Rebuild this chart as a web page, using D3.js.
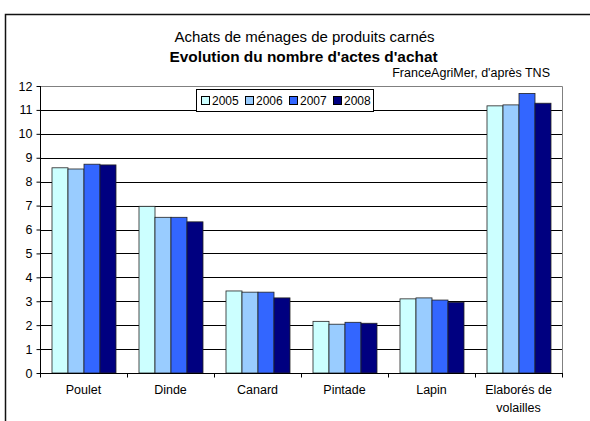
<!DOCTYPE html>
<html>
<head>
<meta charset="utf-8">
<script src="https://cdn.jsdelivr.net/npm/d3@7"></script>
<style>
  body { margin: 0; background: #fff; }
  svg { font-family: "Liberation Sans", Arial, sans-serif; }
</style>
</head>
<body>
<svg></svg>
<script>
var categories = ['Poulet', 'Dinde', 'Canard', 'Pintade', 'Lapin', 'Elaborés de volailles'];
var years = ['2005', '2006', '2007', '2008'];
var values2005 = [8.58, 6.97, 3.43, 2.16, 3.10, 11.17];
var values2006 = [8.53, 6.51, 3.38, 2.04, 3.14, 11.21];
var values2007 = [8.73, 6.51, 3.38, 2.12, 3.05, 11.69];
var values2008 = [8.70, 6.32, 3.14, 2.08, 2.96, 11.28];
var yTicks = [0, 1, 2, 3, 4, 5, 6, 7, 8, 9, 10, 11, 12];
var colors = ['#ccffff', '#99ccff', '#3366ff', '#000080'];

var series = [values2005, values2006, values2007, values2008];
var width = 590;
var height = 421;
var plotLeft = 40, plotRight = 562, plotTop = 86, plotBottom = 373;

var svg = d3.select('svg')
    .attr('width', width)
    .attr('height', height);

// outer frame
svg.append('rect')
    .attr('x', 5.5).attr('y', 14.5)
    .attr('width', 620).attr('height', 440)
    .attr('fill', 'none')
    .attr('stroke', '#111')
    .attr('stroke-width', 1.5);

var x0 = d3.scaleBand()
    .domain(categories)
    .range([plotLeft, plotRight]);

var x1 = d3.scaleBand()
    .domain(years)
    .range([12, 76]);

var y = d3.scaleLinear()
    .domain([0, 12])
    .range([plotBottom, plotTop]);

// grid lines
svg.append('g')
  .selectAll('line')
  .data(yTicks.slice(1))
  .enter()
  .append('line')
    .attr('x1', plotLeft).attr('x2', plotRight)
    .attr('y1', d => Math.round(y(d)) + 0.5)
    .attr('y2', d => Math.round(y(d)) + 0.5)
    .attr('stroke', '#000')
    .attr('stroke-width', 1);

// plot border top / right
svg.append('path')
    .attr('d', 'M' + plotLeft + ',' + (plotTop + 0.5) + 'H' + (plotRight + 0.5) + 'V' + plotBottom)
    .attr('fill', 'none')
    .attr('stroke', '#808080')
    .attr('stroke-width', 1);

// bars
var rows = categories.map((c, i) => ({cat: c, vals: years.map((yr, j) => ({year: yr, value: series[j][i], color: colors[j]}))}));

svg.append('g')
  .selectAll('g')
  .data(rows)
  .enter()
  .append('g')
    .attr('transform', d => 'translate(' + x0(d.cat) + ',0)')
  .selectAll('rect')
  .data(d => d.vals)
  .enter()
  .append('rect')
    .attr('x', d => x1(d.year))
    .attr('y', d => y(d.value))
    .attr('width', x1.bandwidth())
    .attr('height', d => plotBottom - y(d.value))
    .attr('fill', d => d.color)
    .attr('stroke', '#222')
    .attr('stroke-width', 0.8);

// y axis
var yAxis = svg.append('g')
    .attr('transform', 'translate(' + (plotLeft + 0.5) + ',0)')
    .call(d3.axisLeft(y).tickValues(yTicks).tickSize(4).tickPadding(4).tickFormat(d3.format('d')));
yAxis.select('.domain').attr('d', 'M0,' + plotTop + 'V' + plotBottom);
yAxis.selectAll('text').attr('font-size', 12.5).attr('font-family', 'Liberation Sans, Arial, sans-serif').attr('fill', '#000');

// x axis
var xAxis = svg.append('g')
    .attr('transform', 'translate(0,' + (plotBottom + 0.5) + ')');
xAxis.append('line')
    .attr('x1', plotLeft).attr('x2', plotRight + 1)
    .attr('stroke', '#000');
xAxis.selectAll('.tick')
  .data(categories.concat(['end']))
  .enter()
  .append('line')
    .attr('class', 'tick')
    .attr('x1', (d, i) => plotLeft + i * x0.bandwidth() + 0.5)
    .attr('x2', (d, i) => plotLeft + i * x0.bandwidth() + 0.5)
    .attr('y1', 0).attr('y2', 4)
    .attr('stroke', '#000');

xAxis.selectAll('text')
  .data(categories)
  .enter()
  .append('text')
    .attr('x', d => x0(d) + x0.bandwidth() / 2)
    .attr('y', 20)
    .attr('text-anchor', 'middle')
    .attr('font-size', 12.5)
    .each(function(d) {
      var t = d3.select(this);
      var parts = d === 'Elaborés de volailles' ? ['Elaborés de', 'volailles'] : [d];
      parts.forEach((p, k) => {
        t.append('tspan')
          .attr('x', x0(d) + x0.bandwidth() / 2)
          .attr('dy', k === 0 ? 0 : 18)
          .text(p);
      });
    });

// titles
svg.append('text')
    .attr('x', 304.5).attr('y', 42)
    .attr('text-anchor', 'middle')
    .attr('font-size', 15)
    .text('Achats de ménages de produits carnés');
svg.append('text')
    .attr('x', 303.5).attr('y', 61.5)
    .attr('text-anchor', 'middle')
    .attr('font-size', 15.4)
    .attr('font-weight', 'bold')
    .text("Evolution du nombre d'actes d'achat");
svg.append('text')
    .attr('x', 550).attr('y', 77)
    .attr('text-anchor', 'end')
    .attr('font-size', 12.5)
    .text("FranceAgriMer, d'après TNS");

// legend
var legend = svg.append('g').attr('transform', 'translate(196,89)');
legend.append('rect')
    .attr('x', 0.5).attr('y', 0.5)
    .attr('width', 177).attr('height', 22)
    .attr('fill', '#fff')
    .attr('stroke', '#000');
var item = legend.selectAll('.item')
  .data(years)
  .enter()
  .append('g')
    .attr('class', 'item')
    .attr('transform', (d, i) => 'translate(' + (5 + i * 44) + ',0)');
item.append('rect')
    .attr('x', 0.5).attr('y', 7.5)
    .attr('width', 8).attr('height', 8)
    .attr('fill', (d, i) => colors[i])
    .attr('stroke', '#000');
item.append('text')
    .attr('x', 11).attr('y', 16)
    .attr('font-size', 12)
    .text(d => d);
</script>
</body>
</html>
